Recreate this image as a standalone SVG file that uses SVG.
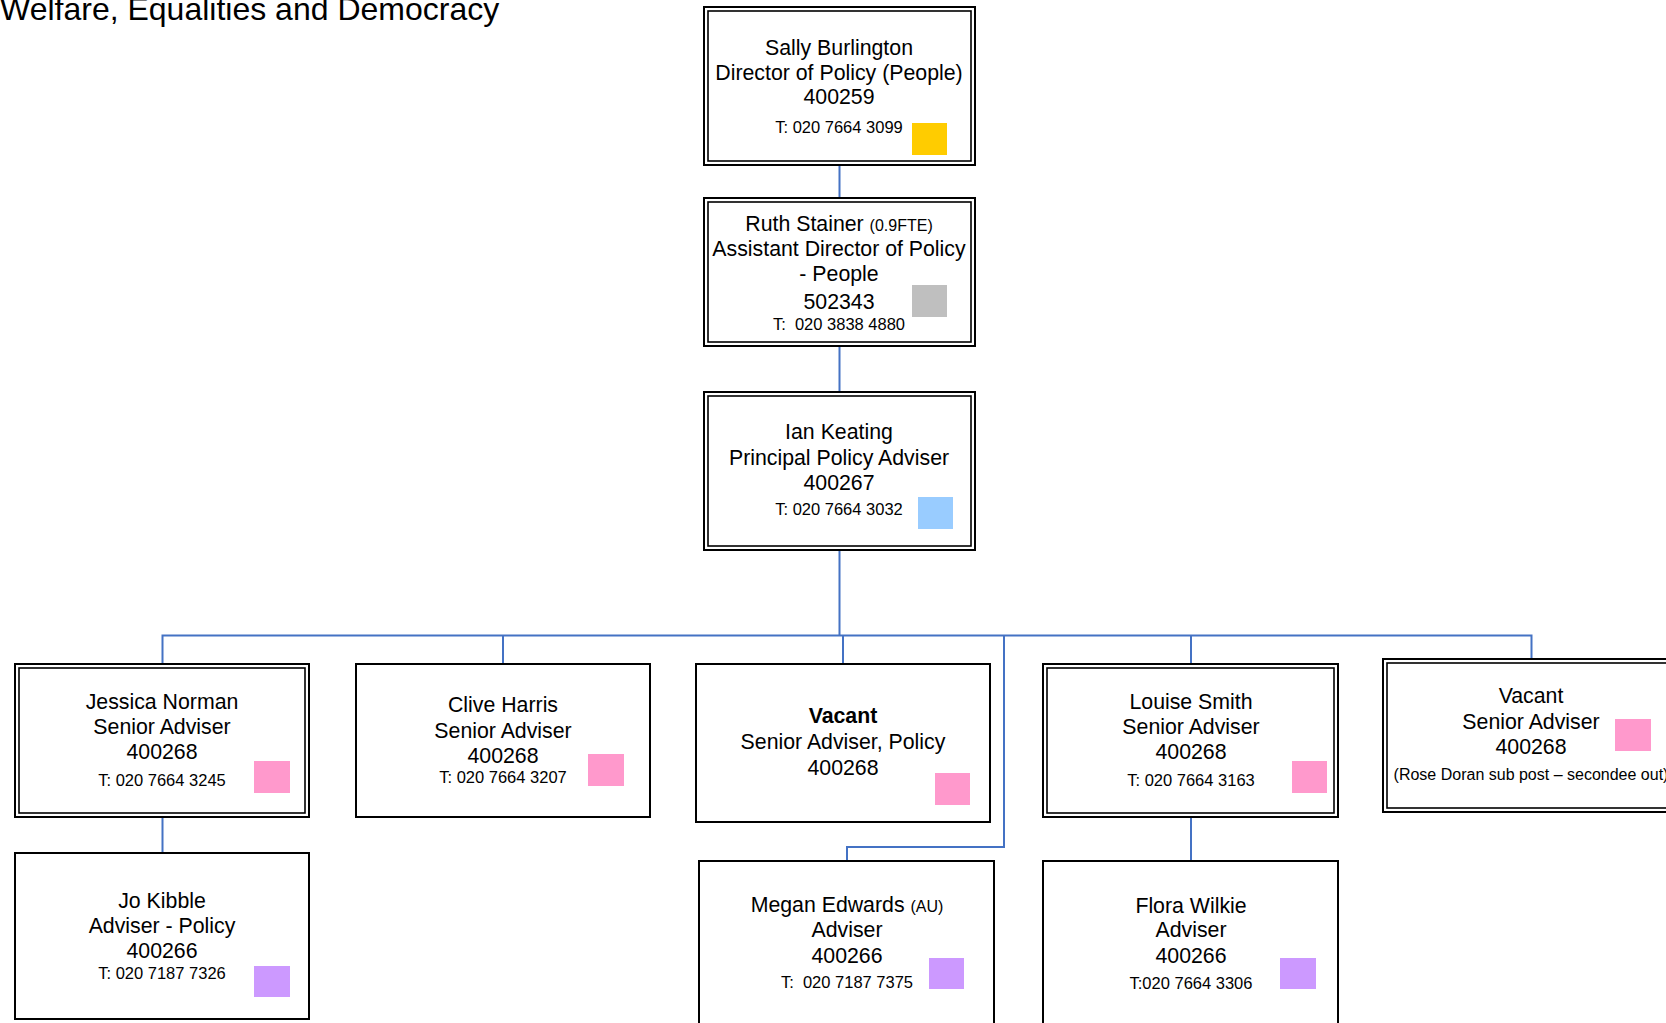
<svg xmlns="http://www.w3.org/2000/svg" width="1666" height="1023" viewBox="0 0 1666 1023">
<style>
.o{fill:#fff;stroke:#000;stroke-width:2}
.i{fill:none;stroke:#000;stroke-width:1.6}
.t{font-family:"Liberation Sans",Arial,sans-serif;font-size:21.3px;fill:#000;text-anchor:middle}
.s{font-size:16.5px}
.xs{font-size:16px}
.r{font-size:16px}
.c{fill:none;stroke:#4472C4;stroke-width:2}
</style>
<rect width="1666" height="1023" fill="#fff"/>
<text x="0" y="20" style="font-family:'Liberation Sans',Arial,sans-serif;font-size:32px;fill:#000">Welfare, Equalities and Democracy</text>
<g id="connectors">
<path class="c" d="M839.5 165V198M839.5 346V392M839.5 550V635.5"/>
<path class="c" d="M162.5 664V635.5H1531.5V659"/>
<path class="c" d="M503 635.5V664M843 635.5V664M1191 635.5V664"/>
<path class="c" d="M1004 635.5V847H847V861"/>
<path class="c" d="M162.5 817V853M1191 817V861"/>
</g>
<g id="sally">
<rect class="o" x="704" y="7" width="271" height="158"/>
<rect class="i" x="708" y="11" width="263" height="150"/>
<text class="t" x="839" y="55">Sally Burlington</text>
<text class="t" x="839" y="80">Director of Policy (People)</text>
<text class="t" x="839" y="104">400259</text>
<text class="t s" x="839" y="133">T: 020 7664 3099</text>
<rect x="912" y="123" width="35" height="32" fill="#FFCC00"/>
</g>
<g id="ruth">
<rect class="o" x="704" y="198" width="271" height="148"/>
<rect class="i" x="708" y="202" width="263" height="140"/>
<text class="t" x="839" y="231">Ruth Stainer <tspan class="xs">(0.9FTE)</tspan></text>
<text class="t" x="839" y="256">Assistant Director of Policy</text>
<text class="t" x="839" y="281">- People</text>
<text class="t" x="839" y="309">502343</text>
<text class="t s" x="839" y="330" xml:space="preserve">T:  020 3838 4880</text>
<rect x="912" y="285" width="35" height="32" fill="#BFBFBF"/>
</g>
<g id="ian">
<rect class="o" x="704" y="392" width="271" height="158"/>
<rect class="i" x="708" y="396" width="263" height="150"/>
<text class="t" x="839" y="439">Ian Keating</text>
<text class="t" x="839" y="465">Principal Policy Adviser</text>
<text class="t" x="839" y="490">400267</text>
<text class="t s" x="839" y="515">T: 020 7664 3032</text>
<rect x="918" y="497" width="35" height="32" fill="#99CCFF"/>
</g>
<g id="jessica">
<rect class="o" x="15" y="664" width="294" height="153"/>
<rect class="i" x="19" y="668" width="286" height="145"/>
<text class="t" x="162" y="709">Jessica Norman</text>
<text class="t" x="162" y="734">Senior Adviser</text>
<text class="t" x="162" y="759">400268</text>
<text class="t s" x="162" y="786">T: 020 7664 3245</text>
<rect x="254" y="761" width="36" height="32" fill="#FF99CC"/>
</g>
<g id="clive">
<rect class="o" x="356" y="664" width="294" height="153"/>
<text class="t" x="503" y="712">Clive Harris</text>
<text class="t" x="503" y="738">Senior Adviser</text>
<text class="t" x="503" y="763">400268</text>
<text class="t s" x="503" y="783">T: 020 7664 3207</text>
<rect x="588" y="754" width="36" height="32" fill="#FF99CC"/>
</g>
<g id="vacant-policy">
<rect class="o" x="696" y="664" width="294" height="158"/>
<text class="t" x="843" y="723" font-weight="bold">Vacant</text>
<text class="t" x="843" y="749">Senior Adviser, Policy</text>
<text class="t" x="843" y="775">400268</text>
<rect x="935" y="773" width="35" height="32" fill="#FF99CC"/>
</g>
<g id="louise">
<rect class="o" x="1043" y="664" width="295" height="153"/>
<rect class="i" x="1047" y="668" width="287" height="145"/>
<text class="t" x="1191" y="709">Louise Smith</text>
<text class="t" x="1191" y="734">Senior Adviser</text>
<text class="t" x="1191" y="759">400268</text>
<text class="t s" x="1191" y="786">T: 020 7664 3163</text>
<rect x="1292" y="761" width="35" height="32" fill="#FF99CC"/>
</g>
<g id="vacant-right">
<rect class="o" x="1383" y="659" width="300" height="153"/>
<rect class="i" x="1387" y="663" width="292" height="145"/>
<text class="t" x="1531" y="703">Vacant</text>
<text class="t" x="1531" y="729">Senior Adviser</text>
<text class="t" x="1531" y="754">400268</text>
<text class="t r" x="1531" y="780">(Rose Doran sub post – secondee out)</text>
<rect x="1615" y="719" width="36" height="32" fill="#FF99CC"/>
</g>
<g id="jo">
<rect class="o" x="15" y="853" width="294" height="166"/>
<text class="t" x="162" y="908">Jo Kibble</text>
<text class="t" x="162" y="933">Adviser - Policy</text>
<text class="t" x="162" y="958">400266</text>
<text class="t s" x="162" y="979">T: 020 7187 7326</text>
<rect x="254" y="966" width="36" height="31" fill="#CC99FF"/>
</g>
<g id="megan">
<rect class="o" x="699" y="861" width="295" height="175"/>
<text class="t" x="847" y="912">Megan Edwards <tspan class="xs">(AU)</tspan></text>
<text class="t" x="847" y="937">Adviser</text>
<text class="t" x="847" y="963">400266</text>
<text class="t s" x="847" y="988" xml:space="preserve">T:  020 7187 7375</text>
<rect x="929" y="958" width="35" height="31" fill="#CC99FF"/>
</g>
<g id="flora">
<rect class="o" x="1043" y="861" width="295" height="175"/>
<text class="t" x="1191" y="913">Flora Wilkie</text>
<text class="t" x="1191" y="937">Adviser</text>
<text class="t" x="1191" y="963">400266</text>
<text class="t s" x="1191" y="989">T:020 7664 3306</text>
<rect x="1280" y="958" width="36" height="31" fill="#CC99FF"/>
</g>
</svg>
